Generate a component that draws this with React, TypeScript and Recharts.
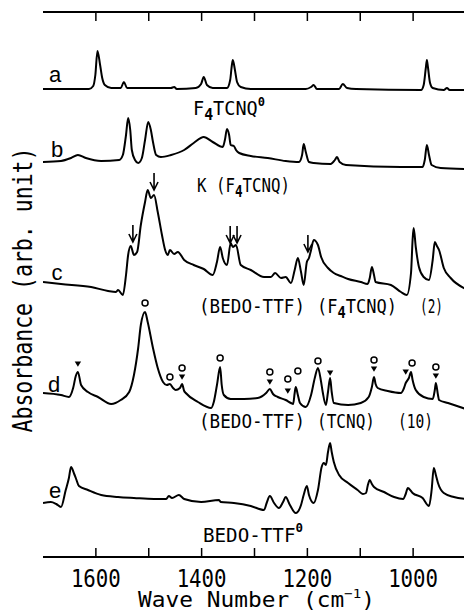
import React from "react";
import { ComposedChart, Line, Scatter, XAxis, YAxis, ReferenceLine } from "recharts";

type Pt = [number, number];

// wave number (cm-1), absorbance (arb. unit) -- spectra stacked with offsets as in the figure
const specA: Pt[] = [
  [1700, 468], [1613, 468], [1605, 471], [1601, 482], [1597, 506], [1592, 492], [1588, 479], [1583, 472],
  [1571, 469], [1553, 469], [1547, 475], [1541, 469], [1458, 469], [1452, 470], [1447, 468], [1411, 469],
  [1401, 473], [1396, 480], [1390, 472], [1379, 469], [1352, 469], [1346, 477], [1343, 491], [1341, 497],
  [1337, 487], [1333, 475], [1326, 470], [1307, 468], [1203, 468], [1193, 470], [1188, 472], [1182, 468],
  [1140, 468], [1133, 473], [1125, 469], [1108, 468], [985, 467], [980, 472], [976, 489], [974, 497],
  [972, 490], [968, 474], [963, 469], [942, 467], [936, 469], [931, 467], [900, 467],
];

const specB: Pt[] = [
  [1700, 395], [1666, 396], [1647, 399], [1634, 402], [1619, 399], [1590, 396], [1556, 397], [1549, 402],
  [1543, 422], [1539, 439], [1535, 427], [1532, 407], [1526, 397], [1520, 394], [1513, 399], [1507, 417],
  [1501, 435], [1496, 427], [1492, 415], [1486, 402], [1477, 400], [1458, 402], [1433, 407], [1415, 414],
  [1396, 420], [1379, 415], [1360, 410], [1356, 417], [1352, 428], [1348, 422], [1345, 412], [1339, 411],
  [1335, 407], [1329, 404], [1307, 401], [1275, 399], [1241, 396], [1216, 395], [1210, 402], [1207, 413],
  [1203, 405], [1197, 395], [1188, 394], [1156, 393], [1148, 397], [1144, 400], [1139, 395], [1127, 392],
  [1023, 390], [982, 390], [978, 397], [974, 412], [970, 402], [965, 392], [948, 389], [900, 388],
];

const specC: Pt[] = [
  [1700, 275], [1666, 273], [1609, 270], [1577, 266], [1562, 265], [1558, 267], [1549, 262], [1543, 282],
  [1539, 302], [1534, 311], [1528, 302], [1522, 305], [1515, 332], [1507, 355], [1502, 367], [1496, 359],
  [1490, 362], [1483, 345], [1475, 322], [1469, 307], [1464, 302], [1460, 307], [1452, 303], [1445, 305],
  [1433, 297], [1415, 292], [1396, 288], [1379, 282], [1371, 295], [1365, 310], [1360, 299], [1352, 292],
  [1345, 314], [1341, 310], [1335, 312], [1326, 292], [1307, 287], [1282, 280], [1269, 280], [1261, 284],
  [1250, 279], [1241, 280], [1231, 274], [1224, 287], [1218, 299], [1212, 285], [1207, 272], [1201, 295],
  [1197, 299], [1193, 307], [1188, 317], [1180, 312], [1174, 300], [1161, 289], [1150, 284], [1137, 281],
  [1123, 278], [1099, 275], [1086, 273], [1082, 279], [1078, 290], [1074, 282], [1071, 275], [1042, 272],
  [1023, 265], [1012, 262], [1004, 284], [1001, 317], [999, 329], [995, 310], [989, 290], [980, 280],
  [970, 277], [963, 297], [959, 315], [955, 311], [951, 307], [942, 289], [929, 279], [900, 268],
];

const specD: Pt[] = [
  [1700, 164], [1666, 162], [1651, 160], [1643, 169], [1638, 181], [1634, 185], [1628, 172], [1615, 165],
  [1596, 160], [1571, 153], [1553, 157], [1537, 165], [1528, 182], [1520, 209], [1515, 232], [1507, 245],
  [1502, 235], [1492, 209], [1483, 189], [1473, 175], [1466, 172], [1460, 173], [1454, 169], [1449, 167],
  [1441, 169], [1437, 173], [1433, 166], [1430, 164], [1407, 155], [1382, 149], [1377, 155], [1371, 172],
  [1365, 190], [1362, 172], [1358, 162], [1345, 158], [1320, 158], [1294, 159], [1278, 164], [1271, 168],
  [1265, 163], [1256, 160], [1241, 157], [1231, 154], [1227, 153], [1224, 164], [1222, 170], [1218, 162],
  [1214, 154], [1203, 150], [1193, 162], [1186, 179], [1180, 189], [1174, 175], [1171, 165], [1165, 152],
  [1161, 165], [1157, 179], [1154, 165], [1150, 154], [1123, 152], [1099, 154], [1084, 160], [1078, 170],
  [1074, 180], [1071, 173], [1067, 169], [1048, 166], [1023, 164], [1018, 168], [1014, 174], [1008, 179],
  [1004, 185], [1001, 177], [995, 167], [980, 160], [963, 158], [959, 167], [957, 174], [953, 162],
  [951, 157], [934, 154], [900, 148],
];

const specE: Pt[] = [
  [1700, 54], [1685, 55], [1675, 53], [1666, 50], [1657, 67], [1651, 79], [1647, 90], [1641, 83],
  [1638, 79], [1632, 71], [1615, 67], [1590, 62], [1558, 60], [1528, 59], [1490, 58], [1467, 58],
  [1462, 61], [1456, 59], [1443, 62], [1433, 58], [1401, 55], [1367, 57], [1364, 55], [1339, 54],
  [1307, 51], [1282, 47], [1277, 54], [1271, 61], [1263, 54], [1254, 49], [1246, 55], [1241, 60],
  [1233, 52], [1222, 44], [1212, 52], [1207, 62], [1201, 71], [1197, 62], [1188, 54], [1180, 67],
  [1173, 90], [1169, 94], [1165, 92], [1161, 105], [1157, 114], [1154, 105], [1150, 95], [1140, 82],
  [1123, 74], [1105, 67], [1095, 63], [1089, 64], [1086, 71], [1082, 77], [1078, 73], [1074, 70],
  [1055, 65], [1036, 60], [1019, 58], [1014, 63], [1010, 69], [1004, 66], [1001, 64], [982, 59],
  [970, 51], [965, 67], [961, 89], [957, 82], [953, 74], [942, 64], [923, 60], [900, 58],
];

// band assignments marked on spectrum d, and arrows on spectrum c
const circlesD: Pt[] = [
  [1507, 254], [1460, 180], [1437, 189], [1365, 199], [1271, 185], [1237, 178], [1218, 186],
  [1180, 196], [1074, 197], [1002, 194], [957, 190],
];
const trianglesD: Pt[] = [
  [1634, 193], [1437, 180], [1271, 175], [1237, 166], [1157, 184], [1074, 188], [1014, 185], [957, 181],
];
const arrowsC: Pt[] = [[1530, 315], [1490, 367], [1346, 314], [1333, 314], [1199, 305]];

const TICKS = [1600, 1500, 1400, 1300, 1200, 1100, 1000];
const TICK_LABELS = [1600, 1400, 1200, 1000];
const Y_TOP = 545;
const TICK_LEN = 9;

const FONT = "'DejaVu Sans Mono', monospace";
const LABEL_FONT = "'Liberation Sans', Arial, sans-serif";

const rows = (pts: Pt[]) => pts.map(([wn, v]) => ({ wn, v }));

const BottomTick = ({ x, y, payload }: any) => {
  if (!TICK_LABELS.includes(payload.value)) return <g />;
  return (
    <text x={x} y={y + 30} textAnchor="middle" fontSize={25} fontFamily={FONT} fill="#000"
      textLength={50} lengthAdjust="spacingAndGlyphs">
      {payload.value}
    </text>
  );
};

const Circle = (p: any) => <circle cx={p.cx} cy={p.cy} r={3} fill="#fff" stroke="#000" strokeWidth={1.5} />;
const Tri = (p: any) => (
  <path d={`M${p.cx - 3.2},${p.cy - 2.6}L${p.cx + 3.2},${p.cy - 2.6}L${p.cx},${p.cy + 2.8}Z`} fill="#000" />
);
const Arrow = (p: any) => {
  const { cx, cy } = p;
  return (
    <path d={`M${cx},${cy - 17}L${cx},${cy} M${cx - 4},${cy - 8}L${cx},${cy}L${cx + 4},${cy - 8}`}
      stroke="#000" strokeWidth={1.6} fill="none" />
  );
};

const SPECTRA = [specA, specB, specC, specD, specE];

export default function App() {
  const t = { fontFamily: FONT, fill: "#000" } as const;
  return (
    <div style={{ position: "absolute", left: 0, top: 0, width: 464, height: 613, overflow: "hidden", background: "#fff" }}>
      <ComposedChart width={466} height={613} margin={{ top: 12, right: 0, bottom: 26, left: 43 }}>
        <XAxis type="number" dataKey="wn" domain={[900, 1700]} reversed allowDataOverflow
          ticks={TICKS} interval={0} tickLine={false} tickSize={0} tickMargin={0} height={30}
          axisLine={{ stroke: "#000", strokeWidth: 2 }} tick={<BottomTick />} />
        <YAxis type="number" dataKey="v" domain={[0, Y_TOP]} allowDataOverflow width={0}
          tick={false} tickLine={false} axisLine={{ stroke: "#000", strokeWidth: 2 }} />
        <ReferenceLine y={Y_TOP} stroke="#000" strokeWidth={2} />
        {TICKS.map((v) => (
          <ReferenceLine key={"b" + v} segment={[{ x: v, y: 0 }, { x: v, y: TICK_LEN }]} stroke="#000" strokeWidth={1.5} />
        ))}
        {TICKS.map((v) => (
          <ReferenceLine key={"t" + v} segment={[{ x: v, y: Y_TOP }, { x: v, y: Y_TOP - TICK_LEN }]} stroke="#000" strokeWidth={1.5} />
        ))}
        {SPECTRA.map((s, i) => (
          <Line key={i} data={rows(s)} dataKey="v" type="monotone" stroke="#000" strokeWidth={2}
            dot={false} isAnimationActive={false} />
        ))}
        <Scatter data={rows(circlesD)} dataKey="v" shape={Circle} isAnimationActive={false} />
        <Scatter data={rows(trianglesD)} dataKey="v" shape={Tri} isAnimationActive={false} />
        <Scatter data={rows(arrowsC)} dataKey="v" shape={Arrow} isAnimationActive={false} />
      </ComposedChart>

      <svg width={464} height={613} style={{ position: "absolute", left: 0, top: 0, pointerEvents: "none" }}>
        <text transform="translate(32,290) rotate(-90)" textAnchor="middle" fontSize={27} {...t}
          textLength={285} lengthAdjust="spacingAndGlyphs">Absorbance (arb. unit)</text>
        <text x={138} y={607} fontSize={21} {...t} textLength={237} lengthAdjust="spacingAndGlyphs">
          Wave Number (cm<tspan dy={-9} fontSize={13}>−1</tspan><tspan dy={9}>)</tspan>
        </text>

        <g fontFamily={LABEL_FONT} fontSize={22} fill="#000" textAnchor="middle">
          <text x={55} y={82}>a</text>
          <text x={57} y={157}>b</text>
          <text x={57} y={280}>c</text>
          <text x={54} y={392}>d</text>
          <text x={55} y={498}>e</text>
        </g>

        <g fontSize={20} {...t}>
          <text x={193} y={115} textLength={72} lengthAdjust="spacingAndGlyphs">
            F<tspan dy={5} fontWeight="bold" fontSize={16}>4</tspan><tspan dy={-5}>TCNQ</tspan>
            <tspan dy={-9} fontWeight="bold" fontSize={13}>0</tspan>
          </text>
          <text x={197} y={192} textLength={93} lengthAdjust="spacingAndGlyphs">
            K (F<tspan dy={5} fontWeight="bold" fontSize={16}>4</tspan><tspan dy={-5}>TCNQ)</tspan>
          </text>
          <text x={199} y={313} textLength={106} lengthAdjust="spacingAndGlyphs">(BEDO-TTF)</text>
          <text x={317} y={313} textLength={80} lengthAdjust="spacingAndGlyphs">
            (F<tspan dy={5} fontWeight="bold" fontSize={16}>4</tspan><tspan dy={-5}>TCNQ)</tspan>
          </text>
          <text x={420} y={313} textLength={23} lengthAdjust="spacingAndGlyphs">(2)</text>
          <text x={199} y={428} textLength={106} lengthAdjust="spacingAndGlyphs">(BEDO-TTF)</text>
          <text x={317} y={428} textLength={58} lengthAdjust="spacingAndGlyphs">(TCNQ)</text>
          <text x={398} y={428} textLength={35} lengthAdjust="spacingAndGlyphs">(10)</text>
          <text x={203} y={542} textLength={100} lengthAdjust="spacingAndGlyphs">
            BEDO-TTF<tspan dy={-10} fontWeight="bold" fontSize={13}>0</tspan>
          </text>
        </g>
      </svg>
    </div>
  );
}
